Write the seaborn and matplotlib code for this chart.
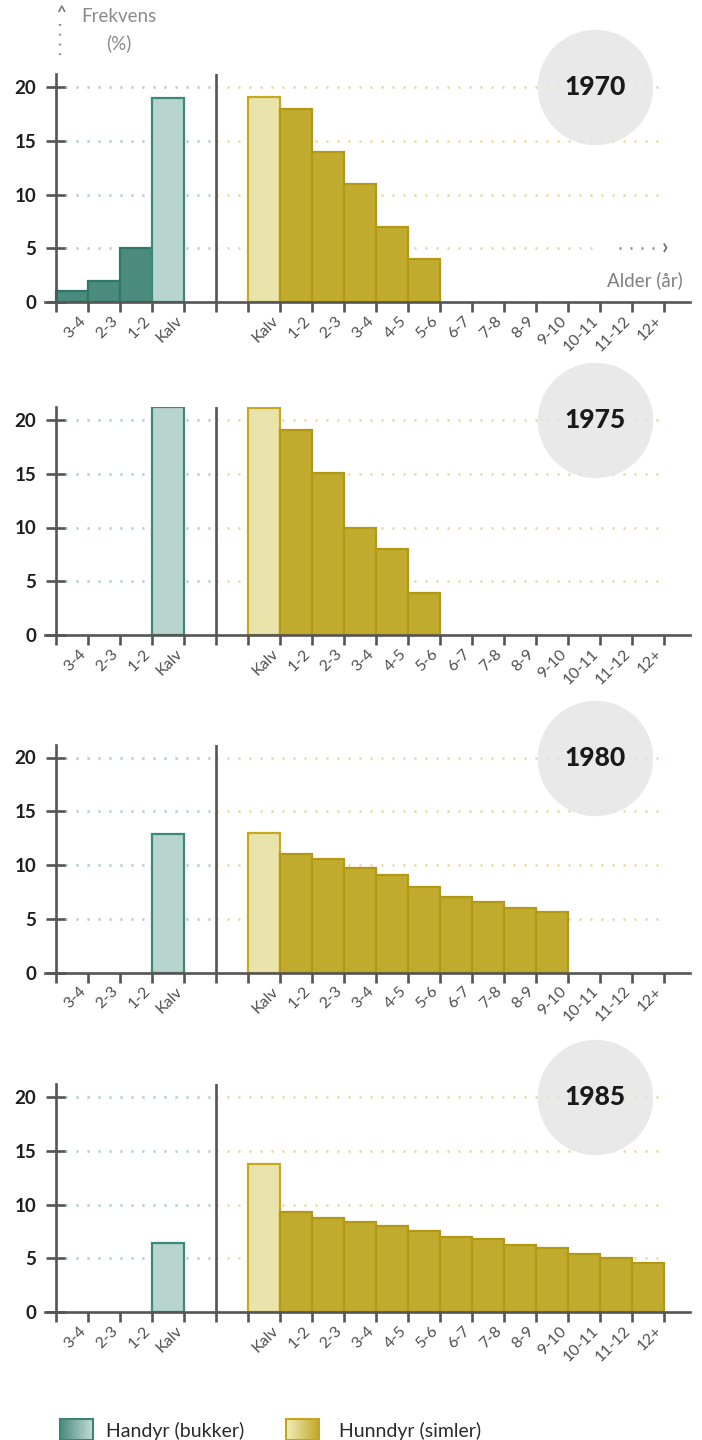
import numpy as np
import pandas as pd
import matplotlib
matplotlib.use("Agg")
import matplotlib.pyplot as plt
import seaborn as sns
from matplotlib.lines import Line2D
from matplotlib.colors import LinearSegmentedColormap

# ---------------- data ----------------
years = ["1970", "1975", "1980", "1985"]
male_ages = ["3-4", "2-3", "1-2", "Kalv"]
female_ages = ["Kalv", "1-2", "2-3", "3-4", "4-5", "5-6", "6-7", "7-8",
               "8-9", "9-10", "10-11", "11-12", "12+"]

male_1970 = [1.0, 2.0, 5.0, 19.0]
male_1975 = [0.0, 0.0, 0.0, 21.2]
male_1980 = [0.0, 0.0, 0.0, 12.9]
male_1985 = [0.0, 0.0, 0.0, 6.45]

female_1970 = [19.1, 18.0, 14.0, 11.0, 7.0, 4.0, 0, 0, 0, 0, 0, 0, 0]
female_1975 = [21.1, 19.1, 15.1, 10.0, 8.0, 3.9, 0, 0, 0, 0, 0, 0, 0]
female_1980 = [13.0, 11.0, 10.6, 9.7, 9.1, 8.0, 7.0, 6.6, 6.0, 5.6, 0, 0, 0]
female_1985 = [13.8, 9.3, 8.75, 8.4, 8.0, 7.5, 7.0, 6.75, 6.25, 5.95, 5.4, 5.0, 4.6]

male_values = [male_1970, male_1975, male_1980, male_1985]
female_values = [female_1970, female_1975, female_1980, female_1985]

y_ticks = [0, 5, 10, 15, 20]
legend_labels = ["Handyr (bukker)", "Hunndyr (simler)"]

# ---------------- style ----------------
sns.set_style("white")
plt.rcParams["font.family"] = ["Lato", "DejaVu Sans"]

AXIS_C = "#555555"
GRID_M = "#a3cbc1"
GRID_F = "#e8d395"
styles = {
    "m_adult": dict(color="#4b8b7d", edgecolor="#2f7767"),
    "m_calf": dict(color="#b7d4ce", edgecolor="#3b8a77"),
    "f_calf": dict(color="#e9e3ac", edgecolor="#c6a821"),
    "f_adult": dict(color="#c1ab2f", edgecolor="#b39913"),
}

# category slots: male bars, two empty slots (divider between), female bars
order = ["M:" + a for a in male_ages] + ["_gap1", "_gap2"] + ["F:" + a for a in female_ages]
n_slots = len(order)
divider = len(male_ages) + 0.5

W, H = 702, 1440
fig = plt.figure(figsize=(W / 100, H / 100), dpi=100)

zero_px = [302, 635, 972.5, 1312]
px_per_unit = 10.75
ymax = 21.2
x_left_px, x_right_px = 45, 690
xlim = (-0.84, 19.32)

for i, yr in enumerate(years):
    rows = []
    for a, v in zip(male_ages, male_values[i]):
        if v > 0:
            rows.append(("M:" + a, v, "m_calf" if a == "Kalv" else "m_adult"))
    for a, v in zip(female_ages, female_values[i]):
        if v > 0:
            rows.append(("F:" + a, v, "f_calf" if a == "Kalv" else "f_adult"))
    df = pd.DataFrame(rows, columns=["slot", "value", "kind"])

    bottom = (H - zero_px[i]) / H
    height = ymax * px_per_unit / H
    ax = fig.add_axes([x_left_px / W, bottom, (x_right_px - x_left_px) / W, height])

    for kind, st in styles.items():
        sub = df[df["kind"] == kind]
        if len(sub) == 0:
            continue
        sns.barplot(data=sub, x="slot", y="value", order=order, width=1.0,
                    color=st["color"], edgecolor=st["edgecolor"], linewidth=1.6,
                    saturation=1, errorbar=None, ax=ax, zorder=2)

    ax.set_xlim(*xlim)
    ax.set_ylim(0, ymax)
    ax.set_xlabel("")
    ax.set_ylabel("")

    # spines
    for s in ["top", "right"]:
        ax.spines[s].set_visible(False)
    ax.spines["left"].set_position(("data", -0.5))
    for s in ["left", "bottom"]:
        ax.spines[s].set_color(AXIS_C)
        ax.spines[s].set_linewidth(1.9)
        ax.spines[s].set_zorder(4)
    ax.axvline(divider, ymin=0, ymax=1, color=AXIS_C, lw=1.9, zorder=4)

    # grid (dotted), teal on male side, yellow on female side
    right_end = n_slots - 0.5
    for yv in y_ticks[1:]:
        ax.hlines(yv, -0.2, divider, colors=GRID_M, linestyles=(0, (0.8, 3.6)),
                  lw=1.8, zorder=1)
        r_end = right_end
        if i == 0 and yv == 5:
            r_end = 16.5
        ax.hlines(yv, divider, r_end, colors=GRID_F, linestyles=(0, (0.8, 3.6)),
                  lw=1.8, zorder=1)

    # y ticks
    ax.set_yticks(y_ticks)
    ax.set_yticklabels([str(t) for t in y_ticks])
    ax.tick_params(axis="y", which="major", left=True, direction="inout",
                   length=14, width=1.9, color=AXIS_C, pad=7, labelsize=13.5,
                   labelcolor="#1e1e1e")
    for t in ax.get_yticklabels():
        t.set_fontweight("bold")

    # x ticks: marks at bar edges, labels under bars (minor)
    edges = np.arange(n_slots + 1) - 0.5
    ax.set_xticks(edges)
    ax.set_xticklabels([""] * len(edges))
    ax.tick_params(axis="x", which="major", bottom=True, direction="out",
                   length=7, width=1.9, color=AXIS_C)
    label_pos, label_txt = [], []
    for k, key in enumerate(order):
        if key.startswith("_"):
            continue
        label_pos.append(k + 0.38)
        label_txt.append(key.split(":", 1)[1])
    ax.set_xticks(label_pos, minor=True)
    ax.set_xticklabels(label_txt, minor=True)
    ax.tick_params(axis="x", which="minor", bottom=True, length=0, pad=12,
                   labelsize=11.5, labelcolor="#505050")
    for t in ax.get_xticklabels(minor=True):
        t.set_rotation(45)
        t.set_ha("right")
        t.set_va("center")
        t.set_rotation_mode("anchor")

    # year circle
    cx = 16.34
    ax.scatter([cx], [20], s=6900, color="#e4e4e4", alpha=0.8,
               linewidths=0, zorder=1.5, clip_on=False)
    ax.text(cx, 20, yr, ha="center", va="center", fontsize=19,
            fontweight="black", color="#1a1a1a", zorder=5)

    if i == 0:
        ax.plot([17.1, 18.35], [5, 5], color="#8a8a8a", lw=1.8,
                linestyle=(0, (0.8, 3.6)), zorder=3, clip_on=False)
        ax.text(18.55, 5, "›", ha="center", va="center", fontsize=16,
                fontweight="bold", color="#777777", zorder=3)
        ax.text(19.1, 2.05, "Alder (år)", ha="right", va="center",
                fontsize=13.5, color="#808080")

# Frekvens header
fig.text(119 / W, 1 - 17 / H, "Frekvens", ha="center", va="center",
         fontsize=13.5, color="#8a8a8a")
fig.text(119 / W, 1 - 43 / H, "(%)", ha="center", va="center",
         fontsize=13.5, color="#8a8a8a")
fig.add_artist(Line2D([60 / W, 60 / W], [1 - 24 / H, 1 - 58 / H],
                      color="#8a8a8a", lw=1.6, linestyle=(0, (0.8, 3.6))))
fig.text(61 / W, 1 - 13 / H, "^", ha="center", va="center", fontsize=12,
         fontweight="bold", color="#777777")

# legend with gradient swatches
grad = np.linspace(0, 1, 64).reshape(1, -1)
cm_m = LinearSegmentedColormap.from_list("m", ["#4b8b7d", "#c2dcd6"])
cm_f = LinearSegmentedColormap.from_list("f", ["#f2eebd", "#c1a82a"])
for (x0, x1), cm, ec, lbl, tx in [((60, 93), cm_m, "#3f8373", legend_labels[0], 106),
                                   ((286, 319), cm_f, "#c4a51d", legend_labels[1], 339)]:
    lax = fig.add_axes([x0 / W, 0, (x1 - x0) / W, (1440 - 1419) / H])
    lax.imshow(grad, aspect="auto", cmap=cm, extent=(0, 1, 0, 1))
    lax.set_xticks([])
    lax.set_yticks([])
    for s in lax.spines.values():
        s.set_color(ec)
        s.set_linewidth(1.5)
    fig.text(tx / W, 1 - 1431 / H, lbl, ha="left", va="center",
             fontsize=14, color="#2a2a2a")

fig.savefig("out.png", dpi=100)
